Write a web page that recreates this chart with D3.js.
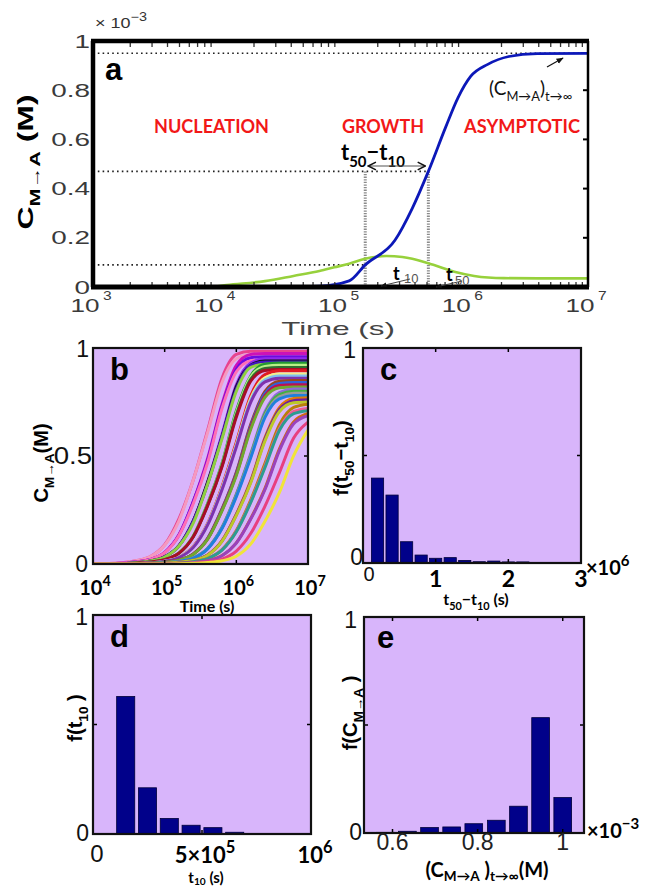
<!DOCTYPE html>
<html>
<head>
<meta charset="utf-8">
<script src="https://cdn.jsdelivr.net/npm/d3@7/dist/d3.min.js"></script>
<style>
  html, body { margin: 0; padding: 0; background: #fff; }
  svg { display: block; }
  text { white-space: pre; }
</style>
</head>
<body>
<svg id="fig" width="645" height="889"></svg>
<script>
// ---------- Panel a: a single run (log10 time in s, concentration in 1e-3 M)
const runLogTime = [3.0, 4.0, 4.6, 4.83, 5.07, 5.20, 5.44, 5.58, 5.71, 5.85, 5.95, 6.05, 6.19, 6.36, 6.59, 7.0];
const runConc    = [0, 0, 0, 0.003, 0.025, 0.09, 0.19, 0.32, 0.47, 0.65, 0.77, 0.855, 0.905, 0.937, 0.949, 0.95];
const rateLogTime = [3.0, 3.95, 4.08, 4.39, 4.62, 4.83, 4.95, 5.07, 5.20, 5.37, 5.50, 5.58, 5.75, 5.92, 6.08, 6.32, 6.6, 7.0];
const rateConc    = [0, 0, 0.008, 0.024, 0.045, 0.065, 0.08, 0.095, 0.115, 0.126, 0.122, 0.115, 0.09, 0.062, 0.045, 0.036, 0.035, 0.035];
const plateauConc = 0.95, halfConc = 0.47, tenthConc = 0.09;
const t10LogTime = 5.20, t50LogTime = 5.71;
const runTimeExps = [3, 4, 5, 6, 7];
const runConcTicks = [0, 0.2, 0.4, 0.6, 0.8, 1];
const runConcTickText = ['0', '0.2', '0.4', '0.6', '0.8', '1'];
const phaseNames = ['NUCLEATION', 'GROWTH', 'ASYMPTOTIC'];

// ---------- Panel b: ensemble of runs, sampled on a common log10 time grid
const ensembleLogTime = [4.0, 4.2, 4.4, 4.6, 4.8, 5.0, 5.2, 5.4, 5.6, 5.8, 6.0, 6.2, 6.4, 6.6, 6.8, 7.0];
const ensembleConc = [
  [0,.002,.006,.015,.034,.089,.21,.39,.62,.86,.97,.985,.985,.985,.985,.985],
  [0,.002,.006,.015,.034,.087,.20,.39,.61,.84,.95,.97,.97,.97,.97,.97],
  [0,.001,.004,.01,.021,.054,.137,.29,.49,.74,.92,.97,.975,.975,.975,.975],
  [0,.001,.004,.01,.021,.053,.134,.29,.48,.73,.90,.955,.96,.96,.96,.96],
  [0,.001,.004,.009,.021,.052,.132,.28,.47,.72,.89,.94,.945,.945,.945,.945],
  [0,0,.002,.006,.014,.033,.086,.20,.38,.60,.83,.93,.95,.95,.95,.95],
  [0,0,.002,.006,.014,.033,.085,.20,.38,.59,.82,.92,.94,.94,.94,.94],
  [0,0,.002,.006,.014,.033,.084,.20,.37,.59,.81,.92,.935,.935,.935,.935],
  [0,0,.002,.006,.014,.032,.083,.19,.37,.58,.80,.91,.925,.925,.925,.925],
  [0,0,.001,.004,.009,.02,.051,.13,.28,.465,.71,.87,.925,.93,.93,.93],
  [0,0,.001,.004,.009,.02,.051,.129,.276,.46,.70,.865,.915,.92,.92,.92],
  [0,0,.001,.004,.009,.02,.05,.127,.273,.455,.69,.855,.905,.91,.91,.91],
  [0,0,.001,.004,.009,.02,.05,.126,.27,.45,.68,.846,.896,.90,.90,.90],
  [0,0,0,.002,.005,.013,.031,.081,.188,.358,.564,.779,.877,.895,.895,.895],
  [0,0,0,.002,.005,.013,.031,.079,.185,.352,.554,.766,.862,.88,.88,.88],
  [0,0,0,.002,.005,.013,.03,.078,.183,.348,.548,.757,.853,.87,.87,.87],
  [0,0,0,.002,.005,.013,.03,.077,.181,.344,.542,.748,.843,.86,.86,.86],
  [0,0,0,.001,.003,.009,.019,.047,.119,.255,.425,.646,.799,.846,.85,.85],
  [0,0,0,.001,.003,.008,.018,.046,.118,.252,.42,.638,.79,.836,.84,.84],
  [0,0,0,.001,.003,.008,.018,.046,.116,.249,.415,.631,.78,.826,.83,.83],
  [0,0,0,.001,.003,.008,.018,.045,.115,.246,.41,.623,.771,.816,.82,.82],
  [0,0,0,0,.002,.005,.012,.028,.073,.17,.324,.51,.705,.794,.81,.81],
  [0,0,0,0,.002,.005,.012,.028,.072,.168,.32,.504,.696,.784,.80,.80],
  [0,0,0,0,.002,.005,.012,.028,.071,.166,.316,.498,.687,.774,.79,.79],
  [0,0,0,0,.002,.005,.012,.027,.07,.164,.312,.491,.679,.764,.78,.78],
  [0,0,0,0,.001,.003,.008,.017,.042,.108,.231,.385,.585,.724,.766,.77],
  [0,0,0,0,.001,.003,.008,.017,.042,.106,.228,.38,.578,.714,.756,.76],
  [0,0,0,0,.001,.003,.008,.017,.041,.105,.225,.375,.57,.705,.746,.75],
  [0,0,0,0,0,.001,.004,.011,.026,.067,.155,.296,.466,.644,.725,.74],
  [0,0,0,0,0,.001,.004,.011,.025,.065,.151,.288,.454,.626,.706,.72],
  [0,0,0,0,0,.001,.004,.011,.025,.064,.149,.284,.447,.618,.696,.71],
  [0,0,0,0,0,.001,.003,.007,.015,.039,.098,.21,.35,.532,.658,.697],
  [0,0,0,0,0,.001,.003,.007,.015,.038,.097,.207,.345,.524,.649,.687],
  [0,0,0,0,0,0,.001,.004,.01,.023,.06,.141,.268,.422,.583,.657],
  [0,0,0,0,0,0,.001,.003,.007,.015,.036,.092,.198,.33,.502,.62]
];
const ensembleColors = [
  '#e8448e', '#f59ac0', '#cc12b8', '#6f0ae0', '#ff6fb5', '#9028f0', '#111111',
  '#4216c0', '#8fd040', '#239a30', '#b8f088', '#2f7030', '#a80c28', '#e01a22',
  '#f2ee8a', '#7fbdf0', '#7e32ad', '#98461f', '#2f62dc', '#bc1052', '#70a830',
  '#8e6cd6', '#44b040', '#9a9a9a', '#1f80dc', '#e07a08', '#701e9e', '#bcc828',
  '#b88008', '#ee5c92', '#2c9c90', '#d06812', '#9a42bc', '#e84080', '#f0e43a'
];
const ensembleTimeExps = [4, 5, 6, 7];

// ---------- Panel c: distribution of t50 - t10 (bin centres in 1e6 s)
const spreadBins = [0.2, 0.4, 0.6, 0.8, 1.0, 1.2, 1.4, 1.6, 1.8, 2.0, 2.2];
const spreadFreq = [0.395, 0.316, 0.099, 0.037, 0.022, 0.025, 0.012, 0.006, 0.009, 0.005, 0.005];
const spreadTicks = [0, 1, 2, 3];

// ---------- Panel d: distribution of t10 (bin centres in 1e6 s)
const t10Bins = [0.15, 0.25, 0.35, 0.45, 0.55, 0.65];
const t10Freq = [0.628, 0.211, 0.071, 0.040, 0.029, 0.008];

// ---------- Panel e: distribution of final concentration (bin centres in 1e-3 M)
const plateauBins = [0.583, 0.635, 0.687, 0.739, 0.791, 0.844, 0.896, 0.948, 1.000];
const plateauFreq = [0.003, 0.008, 0.025, 0.028, 0.043, 0.059, 0.124, 0.534, 0.164];
const plateauTicks = [0.6, 0.8, 1];
const plateauTickText = ['0.6', '0.8', '1'];

// ================= drawing =================
const svg = d3.select('#fig');
const HELV = "'Liberation Sans', Arial, sans-serif";
const CALI = "Lato, 'Open Sans', sans-serif";
const LAV = '#d8b5fb';
const defs = svg.append('defs');

defs.append('marker').attr('id', 'solidHead').attr('viewBox', '0 0 10 10')
  .attr('refX', 9).attr('refY', 5).attr('markerWidth', 6).attr('markerHeight', 6)
  .attr('orient', 'auto-start-reverse')
  .append('path').attr('d', 'M0,1 L10,5 L0,9 z').attr('fill', '#111');
defs.append('marker').attr('id', 'openHead').attr('viewBox', '0 0 10 10')
  .attr('refX', 9).attr('refY', 5).attr('markerWidth', 8).attr('markerHeight', 8)
  .attr('orient', 'auto-start-reverse')
  .append('path').attr('d', 'M1,1 L9,5 L1,9').attr('fill', 'none')
  .attr('stroke', '#111').attr('stroke-width', 1.6);

// text with sub/superscript runs
function rich(parent, parts, o) {
  const t = parent.append('text')
    .attr('font-family', o.family || HELV)
    .attr('font-size', o.size)
    .attr('font-weight', o.weight || 'normal')
    .attr('fill', o.fill || '#000')
    .attr('text-anchor', o.anchor || 'start');
  let tr = `translate(${o.x},${o.y})`;
  if (o.rotate) tr += ` rotate(${o.rotate})`;
  if (o.sx) tr += ` scale(${o.sx},1)`;
  t.attr('transform', tr);
  let shift = 0;
  const subDrop = o.subDrop === undefined ? 0.3 : o.subDrop;
  parts.forEach(([s, k]) => {
    const target = k === 'sub' ? o.size * subDrop : k === 'sup' ? -o.size * 0.45 : 0;
    const ts = t.append('tspan').text(s).attr('dy', target - shift);
    if (k) ts.attr('font-size', o.size * (o.subScale || 0.68));
    shift = target;
  });
  return t;
}

// ---------------- Panel a ----------------
{
  const L = 93, R = 588, T = 41, B = 287;
  const x = d3.scaleLog().domain([1e3, 1e7]).range([L, R]);
  const y = d3.scaleLinear().domain([0, 1]).range([B, T]);
  const g = svg.append('g');
  defs.append('clipPath').attr('id', 'clipA').append('rect')
    .attr('x', L).attr('y', T).attr('width', R - L).attr('height', B - T);

  const xt10 = x(10 ** t10LogTime), xt50 = x(10 ** t50LogTime);
  const dotted = { stroke: '#222', 'stroke-width': 1.6, 'stroke-dasharray': '1.6,3.2' };
  const hl = (x2, v) => {
    const l = g.append('line').attr('x1', L).attr('x2', x2).attr('y1', y(v)).attr('y2', y(v));
    Object.entries(dotted).forEach(([k, val]) => l.attr(k, val));
  };
  hl(R, plateauConc); hl(xt50, halfConc); hl(xt10, tenthConc);
  [xt10, xt50].forEach(xx => {
    g.append('line').attr('x1', xx).attr('x2', xx).attr('y1', y(halfConc)).attr('y2', B)
      .attr('stroke', '#8a8a8a').attr('stroke-width', 3).attr('stroke-dasharray', '1.3,1.3');
  });

  const line = d3.line().x(d => x(10 ** d[0])).y(d => y(d[1])).curve(d3.curveMonotoneX);
  const cg = g.append('g').attr('clip-path', 'url(#clipA)');
  cg.append('path').attr('d', line(d3.zip(rateLogTime, rateConc)))
    .attr('fill', 'none').attr('stroke', '#97d13c').attr('stroke-width', 2.6);
  cg.append('path').attr('d', line(d3.zip(runLogTime, runConc)))
    .attr('fill', 'none').attr('stroke', '#0c18b8').attr('stroke-width', 2.8);

  // minor log ticks on top and bottom edges
  for (let e = 3; e < 7; e++) {
    for (let m = 2; m <= 9; m++) {
      const xx = x(m * 10 ** e);
      g.append('line').attr('x1', xx).attr('x2', xx).attr('y1', T).attr('y2', T + 6).attr('stroke', '#333').attr('stroke-width', 1.3);
      g.append('line').attr('x1', xx).attr('x2', xx).attr('y1', B).attr('y2', B - 5).attr('stroke', '#333').attr('stroke-width', 1.3);
    }
  }
  runConcTicks.forEach(v => {
    g.append('line').attr('x1', R).attr('x2', R - 5).attr('y1', y(v)).attr('y2', y(v)).attr('stroke', '#000').attr('stroke-width', 2);
  });
  // frame: heavy left/top/bottom, lighter right
  g.append('line').attr('x1', L - 2).attr('x2', R + 1).attr('y1', T).attr('y2', T).attr('stroke', '#000').attr('stroke-width', 4.5);
  g.append('line').attr('x1', L - 2).attr('x2', R + 1).attr('y1', B).attr('y2', B).attr('stroke', '#000').attr('stroke-width', 5);
  g.append('line').attr('x1', L).attr('x2', L).attr('y1', T).attr('y2', B).attr('stroke', '#000').attr('stroke-width', 4.5);
  g.append('line').attr('x1', R).attr('x2', R).attr('y1', T).attr('y2', B).attr('stroke', '#000').attr('stroke-width', 2.5);

  // tick labels
  runConcTicks.forEach((v, i) => {
    rich(g, [[runConcTickText[i], '']], { x: 90, y: y(v) + 6.5, size: 18, fill: '#3a3a3a', anchor: 'end', sx: 1.55 });
  });
  runTimeExps.forEach(e => {
    const xx = x(10 ** e);
    rich(g, [['10', '']], { x: xx - 8, y: 312, size: 18, fill: '#3a3a3a', anchor: 'middle', sx: 1.45 });
    rich(g, [[String(e), '']], { x: xx + 10, y: 300, size: 12, fill: '#3a3a3a', sx: 1.3 });
  });
  rich(g, [['Time (s)', '']], { x: 338, y: 335, size: 19, fill: '#444', anchor: 'middle', sx: 1.65 });
  rich(g, [['× 10', ''], ['−3', 'sup']], { x: 95, y: 28, size: 15, fill: '#333', sx: 1.2, subScale: 0.8 });
  rich(g, [['C', ''], ['M→A', 'sub'], [' (M)', '']], { x: 33, y: 162, size: 22, weight: 'bold', anchor: 'middle', rotate: -90, sx: 1.45 });
  g.append('text').attr('x', 105).attr('y', 80).text('a')
    .attr('font-family', HELV).attr('font-weight', 'bold').attr('font-size', 31);

  // phase names
  const phasePos = [[154, 115], [342, 82], [464, 116]];
  phaseNames.forEach((s, i) => {
    g.append('text').attr('x', phasePos[i][0]).attr('y', 133).text(s)
      .attr('textLength', phasePos[i][1]).attr('lengthAdjust', 'spacingAndGlyphs')
      .attr('font-family', CALI).attr('font-weight', 'bold').attr('font-size', 19).attr('fill', '#f21818');
  });

  // t50 - t10 annotation
  rich(g, [['t', ''], ['50', 'sub'], ['−t', ''], ['10', 'sub']], { x: 341, y: 160, size: 22, weight: 'bold', family: CALI });
  g.append('line').attr('x1', xt10 + 3).attr('x2', xt50 - 3).attr('y1', 166).attr('y2', 166)
    .attr('stroke', '#555').attr('stroke-width', 1.2)
    .attr('marker-start', 'url(#openHead)').attr('marker-end', 'url(#openHead)');

  // asymptote annotation
  rich(g, [['(C', ''], ['M→A', 'sub'], [')', ''], ['t→∞', 'sub']], { x: 489, y: 95, size: 19, family: CALI, fill: '#111' });
  g.append('line').attr('x1', 547).attr('y1', 67).attr('x2', 563).attr('y2', 58)
    .attr('stroke', '#111').attr('stroke-width', 1.2).attr('marker-end', 'url(#solidHead)');

  // t10 / t50 markers near the time axis
  g.append('text').attr('x', 393).attr('y', 280).text('t').attr('font-family', CALI).attr('font-weight', 'bold').attr('font-size', 18);
  g.append('text').attr('x', 404).attr('y', 283).text('10').attr('font-family', HELV).attr('font-size', 13).attr('fill', '#555');
  g.append('text').attr('x', 446).attr('y', 281).text('t').attr('font-family', CALI).attr('font-weight', 'bold').attr('font-size', 18);
  g.append('text').attr('x', 455).attr('y', 285).text('50').attr('font-family', HELV).attr('font-size', 13).attr('fill', '#555');
  g.append('line').attr('x1', 410).attr('y1', 279).attr('x2', 381).attr('y2', 286)
    .attr('stroke', '#444').attr('stroke-width', 1).attr('marker-end', 'url(#solidHead)');
  g.append('line').attr('x1', 462).attr('y1', 281).attr('x2', 436).attr('y2', 287)
    .attr('stroke', '#444').attr('stroke-width', 1).attr('marker-end', 'url(#solidHead)');
}

// ---------------- Panel b ----------------
{
  const L = 93, R = 308, T = 348, B = 564;
  const x = d3.scaleLog().domain([1e4, 1e7]).range([L, R]);
  const y = d3.scaleLinear().domain([0, 1]).range([B, T]);
  const g = svg.append('g');
  defs.append('clipPath').attr('id', 'clipB').append('rect')
    .attr('x', L).attr('y', T).attr('width', R - L).attr('height', B - T);
  g.append('rect').attr('x', L).attr('y', T).attr('width', R - L).attr('height', B - T).attr('fill', LAV);
  const line = d3.line().x((d, i) => x(10 ** ensembleLogTime[i])).y(d => y(d)).curve(d3.curveMonotoneX);
  g.append('g').attr('clip-path', 'url(#clipB)')
    .selectAll('path').data(ensembleConc).join('path')
    .attr('d', d => line(d)).attr('fill', 'none')
    .attr('stroke', (d, i) => ensembleColors[i]).attr('stroke-width', 3);
  [1e5, 1e6].forEach(v => {
    g.append('line').attr('x1', x(v)).attr('x2', x(v)).attr('y1', T).attr('y2', T + 4).attr('stroke', '#000').attr('stroke-width', 1.5);
    g.append('line').attr('x1', x(v)).attr('x2', x(v)).attr('y1', B).attr('y2', B - 4).attr('stroke', '#000').attr('stroke-width', 1.5);
  });
  g.append('line').attr('x1', R).attr('x2', R - 4).attr('y1', y(0.5)).attr('y2', y(0.5)).attr('stroke', '#000').attr('stroke-width', 1.5);
  g.append('rect').attr('x', L).attr('y', T).attr('width', R - L).attr('height', B - T)
    .attr('fill', 'none').attr('stroke', '#111').attr('stroke-width', 2.2);

  rich(g, [['1', '']], { x: 89, y: y(1) + 9, size: 23, fill: '#111', anchor: 'end' });
  rich(g, [['0.5', '']], { x: 92, y: y(0.5) + 8, size: 23, fill: '#111', anchor: 'end', sx: 1.2 });
  rich(g, [['0', '']], { x: 88, y: y(0) + 8, size: 23, fill: '#111', anchor: 'end' });
  ensembleTimeExps.forEach(e => {
    rich(g, [['10', ''], [String(e), 'sup']], { x: x(10 ** e) + 2, y: 595, size: 20, weight: 'bold', family: CALI, anchor: 'middle', subScale: 0.72 });
  });
  rich(g, [['Time (s)', '']], { x: 207, y: 612, size: 16, weight: 'bold', family: CALI, anchor: 'middle' });
  rich(g, [['C', ''], ['M→A', 'sub'], ['(M)', '']], { x: 48, y: 463, size: 20, weight: 'bold', anchor: 'middle', rotate: -90 });
  g.append('text').attr('x', 110).attr('y', 380).text('b')
    .attr('font-family', HELV).attr('font-weight', 'bold').attr('font-size', 31);
}

// ---------------- histogram panels ----------------
function histPanel(o) {
  const g = svg.append('g');
  const x = d3.scaleLinear().domain(o.domain).range([o.L, o.R]);
  const y = d3.scaleLinear().domain([0, 1]).range([o.B, o.T]);
  g.append('rect').attr('x', o.L).attr('y', o.T).attr('width', o.R - o.L).attr('height', o.B - o.T).attr('fill', LAV);
  const bw = (x(o.binWidth) - x(0)) * o.barFill;
  g.selectAll('rect.bar').data(d3.zip(o.bins, o.freq)).join('rect').attr('class', 'bar')
    .attr('x', d => x(d[0]) - bw / 2).attr('y', d => y(d[1]))
    .attr('width', bw).attr('height', d => y(0) - y(d[1]))
    .attr('fill', '#01018a').attr('stroke', '#00003a').attr('stroke-width', 0.8);
  o.xTicks.forEach(v => {
    g.append('line').attr('x1', x(v)).attr('x2', x(v)).attr('y1', o.T).attr('y2', o.T + 4).attr('stroke', '#000').attr('stroke-width', 1.5);
    g.append('line').attr('x1', x(v)).attr('x2', x(v)).attr('y1', o.B).attr('y2', o.B - 4).attr('stroke', '#000').attr('stroke-width', 1.5);
  });
  g.append('line').attr('x1', o.L).attr('x2', o.L + 4).attr('y1', y(0.5)).attr('y2', y(0.5)).attr('stroke', '#000').attr('stroke-width', 1.5);
  g.append('line').attr('x1', o.R).attr('x2', o.R - 4).attr('y1', y(0.5)).attr('y2', y(0.5)).attr('stroke', '#000').attr('stroke-width', 1.5);
  g.append('rect').attr('x', o.L).attr('y', o.T).attr('width', o.R - o.L).attr('height', o.B - o.T)
    .attr('fill', 'none').attr('stroke', '#111').attr('stroke-width', 2.2);
  g.append('text').attr('x', o.letterPos[0]).attr('y', o.letterPos[1]).text(o.letter)
    .attr('font-family', HELV).attr('font-weight', 'bold').attr('font-size', 31);
  return { g, x, y };
}

// Panel c
{
  const p = histPanel({ L: 363, R: 581, T: 348, B: 563, domain: [0, 3], binWidth: 0.2, barFill: 0.84,
    bins: spreadBins, freq: spreadFreq, xTicks: [1, 2], letter: 'c', letterPos: [380, 380] });
  const { g, x, y } = p;
  rich(g, [['1', '']], { x: 356, y: y(1) + 10, size: 23, fill: '#111', anchor: 'end' });
  rich(g, [['0', '']], { x: 363, y: y(0) + 2, size: 23, fill: '#111', anchor: 'end' });
  spreadTicks.forEach(v => {
    if (v === 0) rich(g, [['0', '']], { x: x(v) + 6, y: 581, size: 20, fill: '#111', anchor: 'middle' });
    else rich(g, [[String(v), '']], { x: x(v), y: 587, size: 23, weight: 'bold', family: CALI, anchor: 'middle' });
  });
  rich(g, [['×10', ''], ['6', 'sup']], { x: 586, y: 575, size: 20, weight: 'bold', family: CALI, subScale: 0.75 });
  rich(g, [['t', ''], ['50', 'sub'], ['−t', ''], ['10', 'sub'], [' (s)', '']], { x: 476, y: 605, size: 16, weight: 'bold', family: CALI, anchor: 'middle' });
  rich(g, [['f(t', ''], ['50', 'sub'], ['−t', ''], ['10', 'sub'], [')', '']], { x: 348, y: 458, size: 20, weight: 'bold', anchor: 'middle', rotate: -90 });
}

// Panel d
{
  const p = histPanel({ L: 93, R: 311, T: 615, B: 834, domain: [0, 1], binWidth: 0.1, barFill: 0.83,
    bins: t10Bins, freq: t10Freq, xTicks: [0.5], letter: 'd', letterPos: [110, 647] });
  const { g, x, y } = p;
  rich(g, [['1', '']], { x: 88, y: y(1) + 10, size: 23, fill: '#111', anchor: 'end' });
  rich(g, [['0', '']], { x: 89, y: y(0) + 7, size: 23, fill: '#111', anchor: 'end' });
  rich(g, [['0', '']], { x: x(0) + 4, y: 862, size: 24, fill: '#111', anchor: 'middle' });
  rich(g, [['5×10', ''], ['5', 'sup']], { x: x(0.5) + 3, y: 863, size: 22, weight: 'bold', family: CALI, anchor: 'middle', subScale: 0.75 });
  rich(g, [['10', ''], ['6', 'sup']], { x: x(1) + 4, y: 863, size: 22, weight: 'bold', family: CALI, anchor: 'middle', subScale: 0.75 });
  rich(g, [['t', ''], ['10', 'sub'], [' (s)', '']], { x: 206, y: 883, size: 15, weight: 'bold', family: CALI, anchor: 'middle', subDrop: 0.15 });
  rich(g, [['f(t', ''], ['10', 'sub'], [' )', '']], { x: 82, y: 718, size: 20, weight: 'bold', anchor: 'middle', rotate: -90 });
}

// Panel e
{
  const p = histPanel({ L: 364, R: 584, T: 617, B: 833, domain: [0.533, 1.05], binWidth: 0.052, barFill: 0.8,
    bins: plateauBins, freq: plateauFreq, xTicks: plateauTicks, letter: 'e', letterPos: [377, 648] });
  const { g, x, y } = p;
  rich(g, [['1', '']], { x: 357, y: y(1) + 11, size: 23, fill: '#111', anchor: 'end' });
  rich(g, [['0', '']], { x: 362, y: y(0) + 7, size: 23, fill: '#111', anchor: 'end' });
  plateauTicks.forEach((v, i) => {
    rich(g, [[plateauTickText[i], '']], { x: x(v), y: 850, size: 23, fill: '#222', anchor: 'middle' });
  });
  rich(g, [['×10', ''], ['−3', 'sup']], { x: 587, y: 838, size: 20, weight: 'bold', family: CALI, subScale: 0.75 });
  rich(g, [['(C', ''], ['M→A', 'sub'], [' )', ''], ['t→∞', 'sub'], ['(M)', '']], { x: 487, y: 877, size: 20, weight: 'bold', family: CALI, anchor: 'middle', subDrop: 0.2 });
  rich(g, [['f(C', ''], ['M→A', 'sub'], [' )', '']], { x: 357, y: 713, size: 20, weight: 'bold', anchor: 'middle', rotate: -90 });
}
</script>
</body>
</html>
